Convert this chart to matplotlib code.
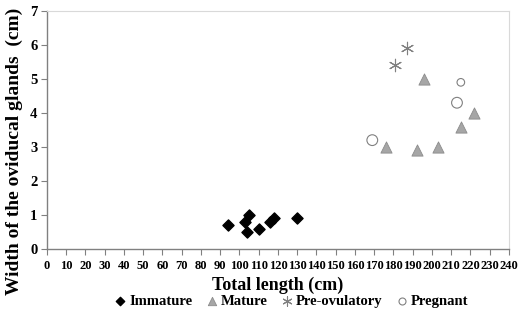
import numpy as np
import matplotlib.pyplot as plt

plt.rcParams['font.family'] = 'Liberation Serif'
plt.rcParams['font.weight'] = 'bold'

# data
imm_x = [94, 103, 105, 104, 110, 116, 118, 130]
imm_y = [0.71, 0.78, 1.0, 0.5, 0.6, 0.8, 0.9, 0.9]

mat_x = [196, 222, 215, 176, 192, 203]
mat_y = [5.0, 4.0, 3.6, 3.0, 2.9, 3.0]

pre_x = [187, 181]
pre_y = [5.9, 5.4]

preg_x = [215, 213, 169]
preg_y = [4.9, 4.3, 3.2]
preg_s = [30, 60, 60]

xticks = np.arange(0, 241, 10)
yticks = np.arange(0, 8, 1)

fig = plt.figure(figsize=(5.22, 3.12), dpi=100)
ax = fig.add_axes([0.090, 0.202, 0.885, 0.763])

ax.scatter(imm_x, imm_y, marker='D', s=32, c='black', label='Immature', zorder=3)
ax.scatter(mat_x, mat_y, marker='^', s=65, c='#a6a6a6', edgecolors='#8c8c8c',
           linewidths=0.6, label='Mature', zorder=3)
ax.scatter(pre_x, pre_y, marker=(6, 2, 0), s=80, c='#808080', linewidths=0.8,
           label='Pre-ovulatory', zorder=3)
ax.scatter(preg_x, preg_y, marker='o', s=preg_s, facecolors='white',
           edgecolors='#808080', linewidths=0.8, label='Pregnant', zorder=3)

ax.set_xlim(0, 240)
ax.set_ylim(0, 7)
ax.set_xticks(xticks)
ax.set_yticks(yticks)
ax.tick_params(axis='both', direction='out', length=4, width=0.8, color='#808080', pad=3)
ax.tick_params(axis='y', labelsize=10.5)
ax.tick_params(axis='x', labelsize=9, pad=4)

for s in ['left', 'bottom']:
    ax.spines[s].set_color('#808080')
    ax.spines[s].set_linewidth(1.0)
for s in ['top', 'right']:
    ax.spines[s].set_color('#d9d9d9')
    ax.spines[s].set_linewidth(0.8)

ax.set_xlabel('Total length (cm)', fontsize=13, fontweight='bold', labelpad=3)
fig.text(0.028, 0.515, 'Width of the oviducal glands  (cm)', rotation=90,
         fontsize=14, fontweight='bold', ha='center', va='center')

h, l = ax.get_legend_handles_labels()
fig.legend(h, l, loc='center', bbox_to_anchor=(0.557, 0.035), ncol=4, frameon=False,
           fontsize=10.5, handlelength=1.0, handletextpad=0.1, columnspacing=0.85,
           markerscale=0.75)

fig.savefig('out.png', dpi=100)
